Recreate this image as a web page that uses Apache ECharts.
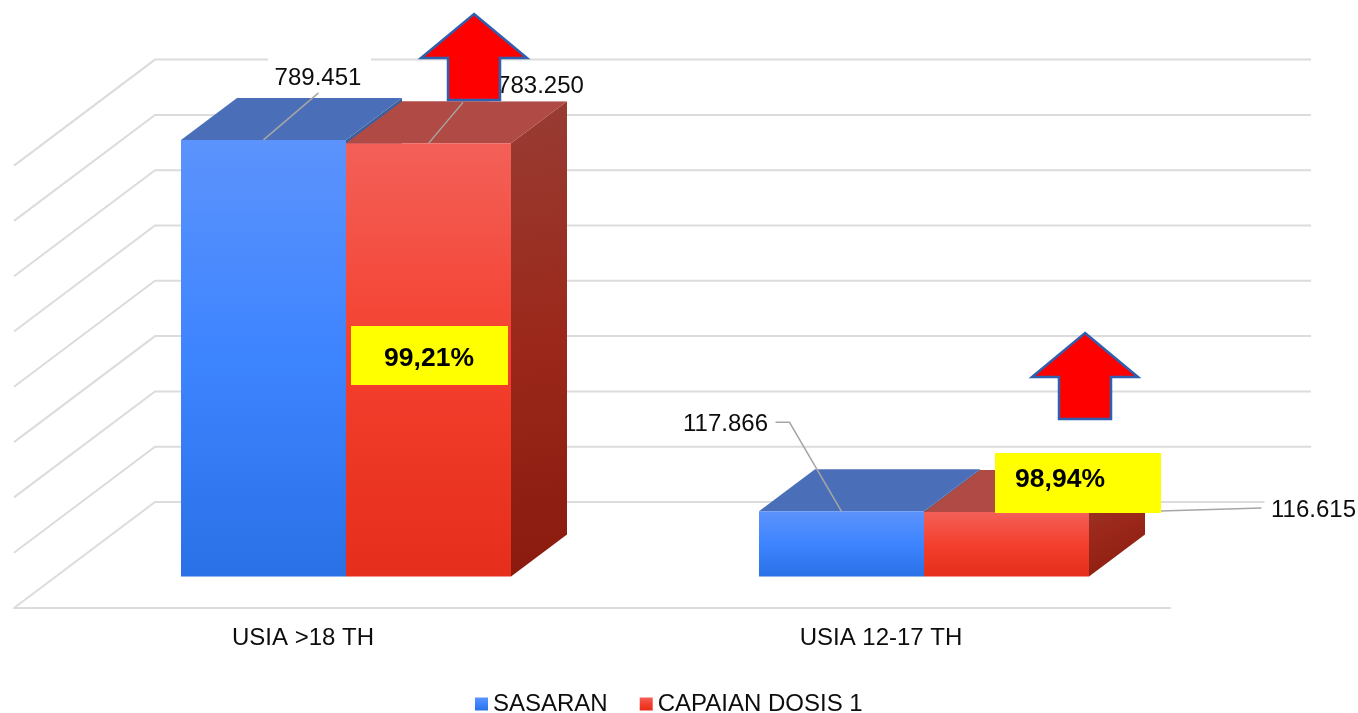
<!DOCTYPE html>
<html>
<head>
<meta charset="utf-8">
<style>html,body{margin:0;padding:0;background:#fff;overflow:hidden}#c{width:1358px;height:713px}</style>
<script src="https://cdn.jsdelivr.net/npm/echarts@6/dist/echarts.min.js"></script>
</head>
<body>
<div id="c"></div>
<script>
const categories = ['USIA >18 TH', 'USIA 12-17 TH'];
const sasaran = [789451, 117866];
const capaian = [783250, 116615];
const seriesNames = ['SASARAN', 'CAPAIAN DOSIS 1'];
const percentLabels = ['99,21%', '98,94%'];
const axisTicks = [0, 100000, 200000, 300000, 400000, 500000, 600000, 700000, 800000];

const FONT = '"Liberation Sans", Arial, sans-serif';
const TEXT = '#0d0d0d';
const GRID = '#dcdcdc';
const LEADER = '#a6a6a6';
const WALL = [141, -106];      // floor front edge -> back wall
const FRONT = [43, -31.5];     // floor front edge -> bar front plane
const DEPTH = [56, -42];       // bar depth
const BAR_FRAC = 165 / 578;

const fmt = v => String(v).replace(/\B(?=(\d{3})+$)/g, '.');
const vgrad = (stops) => ({type:'linear',x:0,y:0,x2:0,y2:1,colorStops:stops.map((c,i)=>({offset:i/(stops.length-1),color:c}))});
const FRONT_GRAD = [
  vgrad(['#5c93fc','#3d84ff','#2a70e6']),
  vgrad(['#f36058','#f43f2e','#e52e1b'])
];
const SIDE_GRAD = {type:'linear',x:0,y:0,x2:1,y2:1,colorStops:[
  {offset:0,color:'#983c34'},{offset:.5,color:'#9b281a'},{offset:1,color:'#8a1a0f'}]};
const TOP_COL = ['#4a6fb8','#b04a44'];
const SIDE_COL = ['#3c5f9f', SIDE_GRAD];

// leader polylines and label placement, relative to the centre of a bar's front top edge
const labelPlace = [
  [ {lead:[[55,-47]], text:[54.5,-62], box:[4.5,-83,103,31]},
    {lead:[[-52,-89],[-66,-89]], text:[-116,-87], box:null} ],
  [ {lead:[[34.5,-41]], text:[112,-57], box:[60.5,-73,103,31]},
    {lead:[[154,-1],[255,-4]], text:[307,-2], box:[258,-17,95,29]} ]
];

function barItem(si) {
  return function (params, api) {
    const cat = api.value(0), val = api.value(1);
    const c = api.coord([cat, val]), b = api.coord([cat, 0]);
    const w = api.size([1, 0])[0] * BAR_FRAC;
    const x0 = c[0] + FRONT[0] + (si === 0 ? -w : 0), x1 = x0 + w;
    const yt = c[1] + FRONT[1], yb = b[1] + FRONT[1];
    const dx = DEPTH[0], dy = DEPTH[1];
    const ch = [
      {type:'polygon',shape:{points:[[x1,yb],[x1+dx,yb+dy],[x1+dx,yt+dy],[x1,yt]]},style:{fill:SIDE_COL[si]}},
      {type:'polygon',shape:{points:[[x0,yt],[x1,yt],[x1+dx,yt+dy],[x0+dx,yt+dy]]},style:{fill:TOP_COL[si]}},
      {type:'rect',shape:{x:x0,y:yt,width:w,height:yb-yt},style:{fill:FRONT_GRAD[si]}}
    ];
    const ax = (x0 + x1) / 2, ay = yt, p = labelPlace[si][cat];
    if (p.box) ch.push({type:'rect',shape:{x:ax+p.box[0],y:ay+p.box[1],width:p.box[2],height:p.box[3]},style:{fill:'#fff'}});
    ch.push({type:'polyline',shape:{points:[[ax,ay]].concat(p.lead.map(o=>[ax+o[0],ay+o[1]]))},style:{stroke:LEADER,lineWidth:1.5,fill:'none'}});
    ch.push({type:'text',style:{x:ax+p.text[0],y:ay+p.text[1],text:fmt(val),fill:TEXT,font:'24px '+FONT,align:'center',verticalAlign:'middle'}});
    return {type:'group',children:ch};
  };
}

function wallItem(params, api) {
  const v = api.value(0), y = api.coord([0, v])[1];
  const cs = params.coordSys, x = cs.x, r = cs.x + cs.width;
  return {type:'polyline',shape:{points:[[x,y],[x+WALL[0],y+WALL[1]],[r+WALL[0],y+WALL[1]]]},
    style:{stroke:GRID,lineWidth:2,fill:'none'}};
}

function arrow(tipX, tipY) {
  const p = [[0,0],[53,44],[26,44],[26,86],[-26,86],[-26,44],[-53,44]];
  return {type:'polygon',z:100,silent:true,shape:{points:p.map(q=>[tipX+q[0],tipY+q[1]])},
    style:{fill:'#ff0000',stroke:'#2f5fae',lineWidth:2.5}};
}
function pctBox(x,y,w,h,tx,ty,txt) {
  return [
    {type:'rect',z:90,silent:true,shape:{x,y,width:w,height:h},style:{fill:'#ffff00'}},
    {type:'text',z:91,silent:true,style:{x:tx,y:ty,text:txt,fill:'#000',font:'bold 26.5px '+FONT,align:'center',verticalAlign:'middle'}}
  ];
}

const chart = echarts.init(document.getElementById('c'));
chart.setOption({
  animation:false,
  backgroundColor:'#fff',
  textStyle:{fontFamily:FONT},
  grid:{left:14,width:1156,top:165.6,height:442.4,containLabel:false},
  xAxis:{type:'category',data:categories,
    axisLine:{lineStyle:{color:GRID,width:2}},axisTick:{show:false},
    axisLabel:{color:TEXT,fontSize:24,fontFamily:FONT,margin:18},splitLine:{show:false}},
  yAxis:{type:'value',min:0,max:800000,interval:100000,
    axisLine:{show:false},axisTick:{show:false},axisLabel:{show:false},splitLine:{show:false}},
  legend:{left:475,top:692,itemWidth:13,itemHeight:13,itemGap:32,padding:0,icon:'rect',
    textStyle:{color:TEXT,fontSize:24,fontFamily:FONT},
    data:seriesNames},
  series:[
    {type:'custom',name:'walls',z:1,silent:true,renderItem:wallItem,data:axisTicks.map(v=>[v]),encode:{y:0}},
    {type:'custom',name:seriesNames[0],z:2,silent:true,renderItem:barItem(0),
      itemStyle:{color:FRONT_GRAD[0]},encode:{x:0,y:1},data:sasaran.map((v,i)=>[i,v])},
    {type:'custom',name:seriesNames[1],z:3,silent:true,renderItem:barItem(1),
      itemStyle:{color:FRONT_GRAD[1]},encode:{x:0,y:1},data:capaian.map((v,i)=>[i,v])}
  ],
  graphic:[
    ...pctBox(351,326,157,59,429,359,percentLabels[0]),
    ...pctBox(995,453,166,60,1060,480,percentLabels[1]),
    arrow(474,14),
    arrow(1085,333)
  ]
});
</script>
</body>
</html>
